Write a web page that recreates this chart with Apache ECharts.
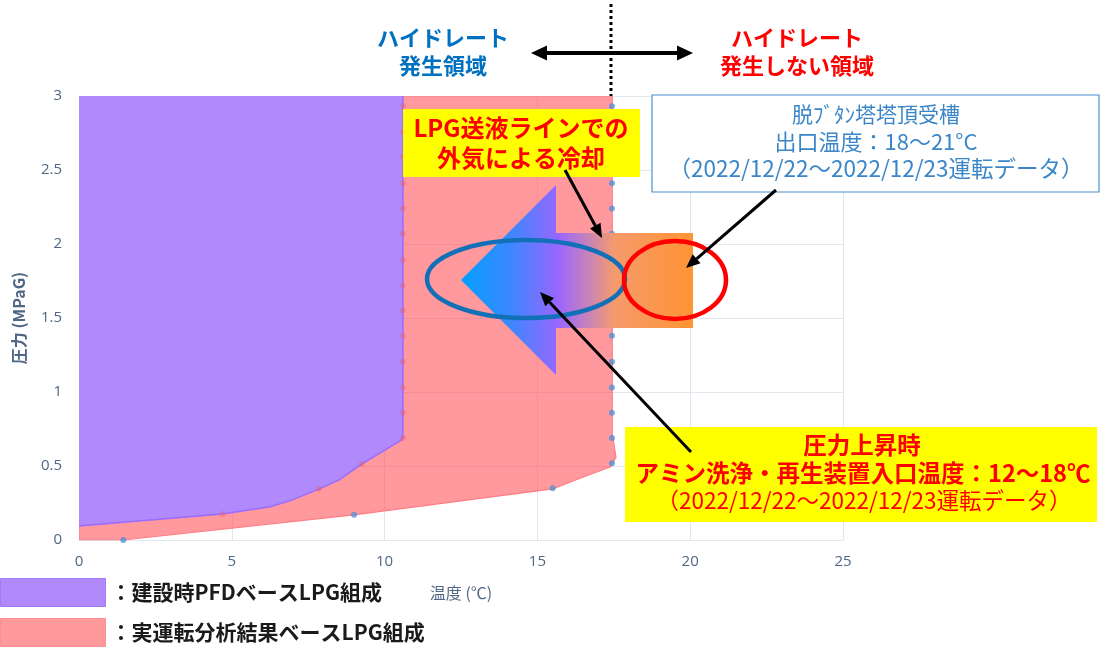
<!DOCTYPE html>
<html>
<head>
<meta charset="utf-8">
<script src="https://cdn.jsdelivr.net/npm/echarts@6/dist/echarts.min.js"></script>
<style>
html,body{margin:0;padding:0;background:#fff}
#main{width:1107px;height:647px}
</style>
</head>
<body>
<div id="main"></div>
<script>
// 建設時PFDベース (境界線)
var pfdTemp = [0, 4.7, 6.26, 6.92, 7.85, 8.5, 9.25, 10.52, 10.6, 10.6];
var pfdPress = [0.095, 0.176, 0.225, 0.266, 0.344, 0.405, 0.513, 0.671, 0.69, 3];
// 実運転分析結果ベース (境界線)
var actTemp = [0, 1.45, 9.0, 15.5, 16.4, 17.4, 17.57, 17.45, 17.45];
var actPress = [0, 0, 0.17, 0.345, 0.417, 0.495, 0.56, 0.72, 3];
// マーカー
var pfdMarkTemp = [4.7, 7.85, 9.25, 10.6, 10.6, 10.6, 10.6, 10.6, 10.6, 10.6, 10.6, 10.6, 10.6, 10.6, 10.6, 10.6, 10.6];
var pfdMarkPress = [0.176, 0.345, 0.514, 0.69, 0.86, 1.03, 1.205, 1.38, 1.55, 1.72, 1.89, 2.07, 2.24, 2.41, 2.59, 2.76, 2.93];
var actMarkTemp = [1.45, 9.0, 15.5, 17.44, 17.44, 17.44, 17.44, 17.44, 17.44, 17.44, 17.44, 17.44, 17.44, 17.44, 17.44, 17.44, 17.44, 17.44];
var actMarkPress = [0, 0.17, 0.349, 0.518, 0.69, 0.86, 1.03, 1.205, 1.38, 1.55, 1.72, 1.89, 2.07, 2.24, 2.41, 2.59, 2.76, 2.93];
var xTicks = [0, 5, 10, 15, 20, 25];
var yTicks = [0, 0.5, 1, 1.5, 2, 2.5, 3];

var nameA = '：建設時PFDベースLPG組成';
var nameB = '：実運転分析結果ベースLPG組成';
var jp = '"Noto Sans CJK JP", sans-serif';

function zip(a, b) {
    return a.map(function (v, i) { return [v, b[i]]; });
}

// 矢印 (線 + 三角)
function arrow(x1, y1, x2, y2, lw, hl, hw, both) {
    var a = Math.atan2(y2 - y1, x2 - x1);
    var c = Math.cos(a), s = Math.sin(a);
    var px = -s * hw / 2, py = c * hw / 2;
    var bx = x2 - hl * c, by = y2 - hl * s;
    var sx = both ? x1 + hl * c : x1, sy = both ? y1 + hl * s : y1;
    var els = [
        {type: 'line', z: 100, shape: {x1: sx, y1: sy, x2: bx, y2: by}, style: {stroke: '#000', lineWidth: lw}},
        {type: 'polygon', z: 100, shape: {points: [[x2, y2], [bx + px, by + py], [bx - px, by - py]]}, style: {fill: '#000'}}
    ];
    if (both) {
        els.push({type: 'polygon', z: 100, shape: {points: [[x1, y1], [sx + px, sy + py], [sx - px, sy - py]]}, style: {fill: '#000'}});
    }
    return els;
}

function txt(t, x, y, color, size, weight) {
    return {type: 'text', z: 110, style: {text: t, x: x, y: y, fill: color, font: (weight || 'normal') + ' ' + size + 'px ' + jp, align: 'center', verticalAlign: 'middle'}};
}

var chart = echarts.init(document.getElementById('main'));

var graphics = [];
// 上部の領域表示
graphics.push({type: 'line', z: 100, shape: {x1: 611, y1: 4, x2: 611, y2: 96}, style: {stroke: '#000', lineWidth: 3, lineDash: [3, 3]}});
graphics = graphics.concat(arrow(531, 53, 693, 53, 4, 16, 15, true));
graphics.push(txt('ハイドレート', 443, 38, '#0070C0', 22, 'bold'));
graphics.push(txt('発生領域', 443, 66, '#0070C0', 22, 'bold'));
graphics.push(txt('ハイドレート', 797, 38, '#FF0000', 22, 'bold'));
graphics.push(txt('発生しない領域', 797, 66, '#FF0000', 22, 'bold'));

// グラデーション矢印
graphics.push({
    type: 'polygon', z: 90,
    shape: {points: [[461, 280], [556, 185], [556, 233], [693, 233], [693, 328], [556, 328], [556, 375]]},
    style: {fill: new echarts.graphic.LinearGradient(0, 0, 1, 0, [
        {offset: 0, color: '#00A0FF'},
        {offset: 0.22, color: '#3F86FF'},
        {offset: 0.42, color: '#9966FF'},
        {offset: 0.55, color: '#C883B8'},
        {offset: 0.66, color: '#F59A6C'},
        {offset: 1, color: '#FF9433'}
    ])}
});
graphics.push({type: 'ellipse', z: 95, shape: {cx: 526, cy: 279, rx: 99, ry: 39}, style: {fill: null, stroke: '#1170B8', lineWidth: 4.5}});
graphics.push({type: 'ellipse', z: 95, shape: {cx: 675, cy: 280, rx: 51, ry: 39}, style: {fill: null, stroke: '#FF0000', lineWidth: 4.5}});

// 注記ボックス
graphics.push({type: 'rect', z: 100, shape: {x: 403, y: 109, width: 237, height: 68}, style: {fill: '#FFFF00'}});
graphics.push(txt('LPG送液ラインでの', 521, 128, '#FF0000', 24, 'bold'));
graphics.push(txt('外気による冷却', 521, 158, '#FF0000', 24, 'bold'));

graphics.push({type: 'rect', z: 100, shape: {x: 652, y: 95, width: 447, height: 97}, style: {fill: '#fff', stroke: '#4A90D0', lineWidth: 1.2}});
graphics.push(txt('脱ﾌﾞﾀﾝ塔塔頂受槽', 876, 114, '#3A86C8', 21));
graphics.push(txt('出口温度：18～21°C', 876, 142, '#3A86C8', 22));
graphics.push(txt('（2022/12/22～2022/12/23運転データ）', 876, 168, '#3A86C8', 22.5));

graphics.push({type: 'rect', z: 100, shape: {x: 625, y: 427, width: 472, height: 95}, style: {fill: '#FFFF00'}});
graphics.push(txt('圧力上昇時', 862, 445, '#FF0000', 23.5, 'bold'));
graphics.push(txt('アミン洗浄・再生装置入口温度：12～18℃', 863, 473, '#FF0000', 23.5, 'bold'));
graphics.push(txt('（2022/12/22～2022/12/23運転データ）', 864, 500, '#FF0000', 22.5));

graphics = graphics.concat(arrow(565, 170, 602, 238, 3, 14, 12));
graphics = graphics.concat(arrow(776, 190, 686, 268, 3, 14, 12));
graphics = graphics.concat(arrow(691, 452, 540, 292, 3, 14, 12));

var option = {
    animation: false,
    backgroundColor: '#fff',
    grid: {left: 79, right: 264, top: 96, bottom: 107},
    legend: {
        orient: 'vertical',
        left: 0,
        top: 578,
        padding: 0,
        itemWidth: 105,
        itemHeight: 28,
        itemGap: 11,
        icon: 'rect',
        selectedMode: false,
        textStyle: {fontSize: 21, fontWeight: 'bold', color: '#1a1a1a', fontFamily: jp, padding: 0},
        data: [
            {name: nameA, itemStyle: {color: '#B08AFD', borderColor: '#A07AF8', borderWidth: 1}},
            {name: nameB, itemStyle: {color: '#FF9A9C', borderColor: '#FF8C90', borderWidth: 1}}
        ]
    },
    xAxis: {
        type: 'value', min: xTicks[0], max: xTicks[xTicks.length - 1], interval: 5,
        name: '温度 (℃)', nameLocation: 'middle', nameGap: 45,
        nameTextStyle: {color: '#506784', fontSize: 16, fontFamily: jp},
        axisLine: {show: true, lineStyle: {color: '#E1E7EF'}},
        axisTick: {show: false},
        axisLabel: {color: '#506784', fontSize: 15, margin: 14, fontFamily: 'Open Sans'},
        splitLine: {lineStyle: {color: '#E1E7EF'}}
    },
    yAxis: {
        type: 'value', min: yTicks[0], max: yTicks[yTicks.length - 1], interval: 0.5,
        name: '圧力 (MPaG)', nameLocation: 'middle', nameGap: 52,
        nameTextStyle: {color: '#506784', fontSize: 16, fontWeight: 'bold', fontFamily: jp},
        axisLine: {show: false},
        axisTick: {show: false},
        axisLabel: {color: '#506784', fontSize: 15, margin: 17, fontFamily: 'Open Sans'},
        splitLine: {lineStyle: {color: '#E1E7EF'}}
    },
    series: [
        {
            name: nameB, type: 'line', z: 2, showSymbol: false, symbol: 'none',
            data: zip(actTemp, actPress),
            itemStyle: {color: '#FF9A9C'},
            lineStyle: {color: '#FF7D85', width: 1.2},
            areaStyle: {origin: 'end', color: 'rgba(255,80,86,0.58)', opacity: 1}
        },
        {
            name: nameA, type: 'line', z: 3, showSymbol: false, symbol: 'none',
            data: zip(pfdTemp, pfdPress),
            itemStyle: {color: '#B08AFD'},
            lineStyle: {color: '#9A6BFF', width: 1.5},
            areaStyle: {origin: 'end', color: '#B08AFD', opacity: 1}
        },
        {
            type: 'scatter', z: 4, symbolSize: 6,
            data: zip(pfdMarkTemp, pfdMarkPress),
            itemStyle: {color: '#E8585E', opacity: 0.35}
        },
        {
            type: 'scatter', z: 4, symbolSize: 6,
            data: zip(actMarkTemp, actMarkPress),
            itemStyle: {color: '#4E8FD8', opacity: 0.75}
        }
    ],
    graphic: graphics
};
chart.setOption(option);
</script>
</body>
</html>
